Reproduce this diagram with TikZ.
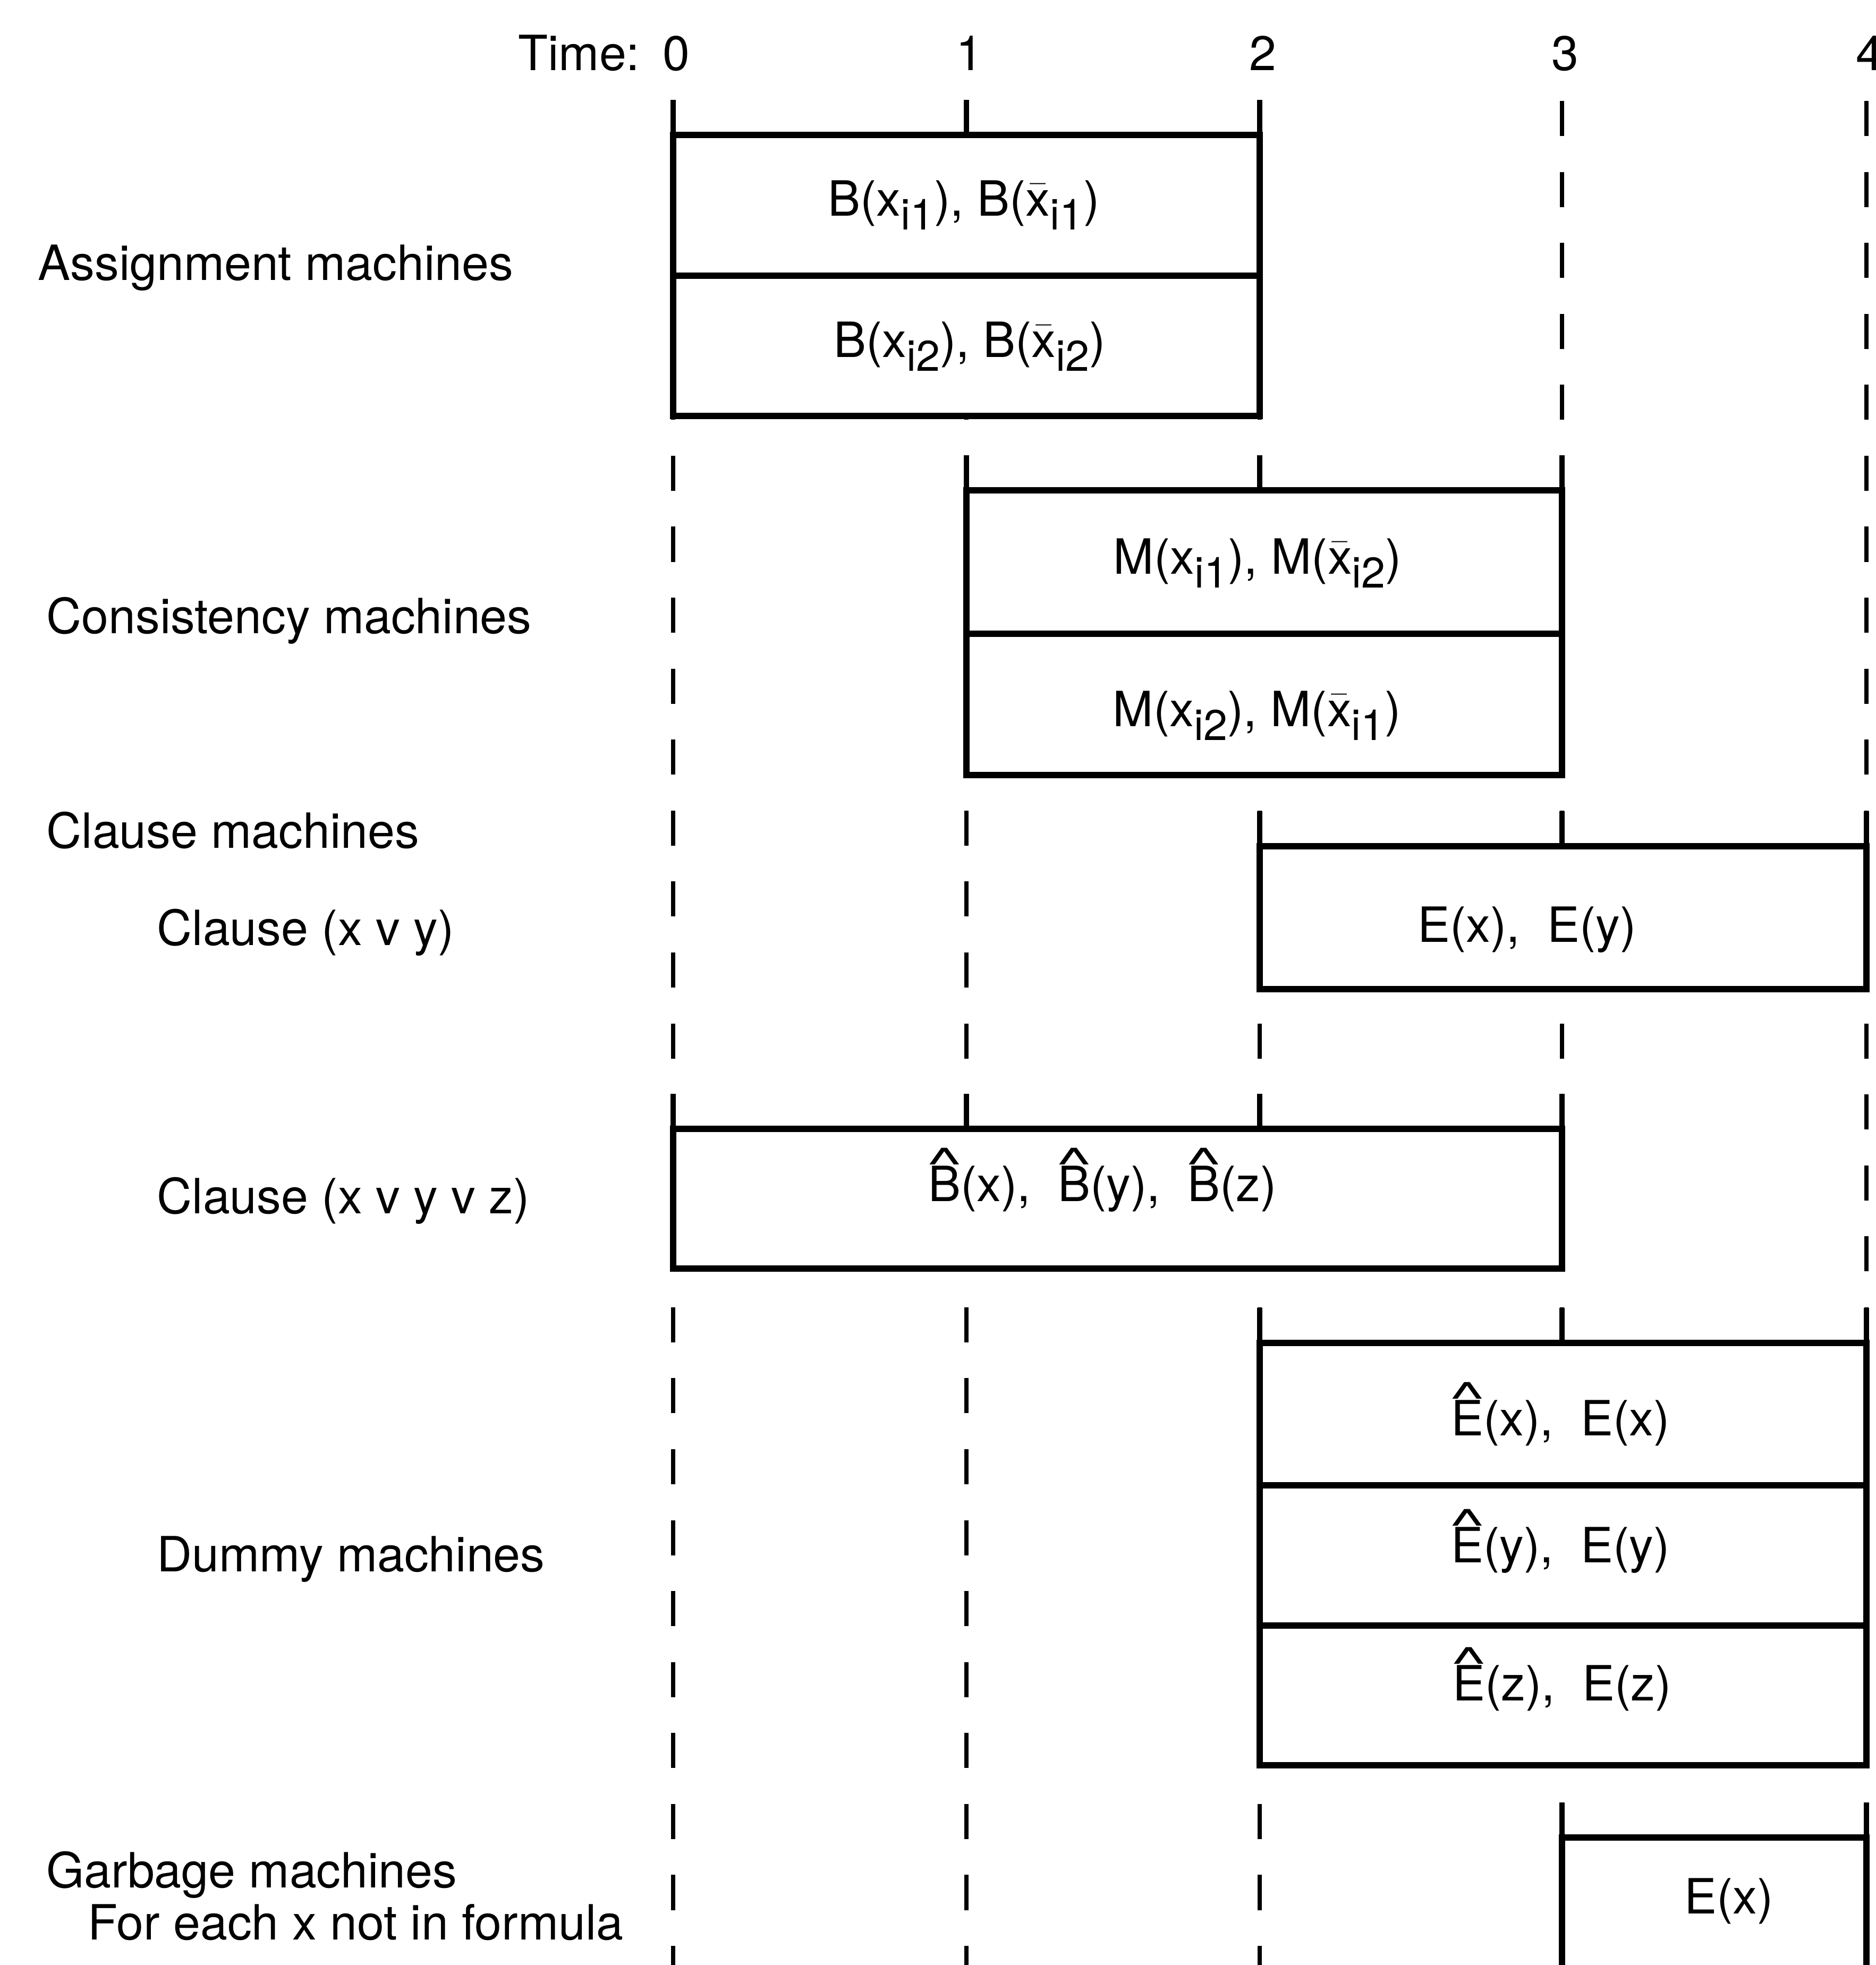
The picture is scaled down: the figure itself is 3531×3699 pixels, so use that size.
\documentclass[tikz,border=0pt]{standalone}
\usepackage{fontspec}
\setmainfont{TeX Gyre Heros}
\usetikzlibrary{positioning}

% lowered index, barred x, hatted letter
\newsavebox{\hatbox}
\newcommand{\ix}[1]{\raisebox{-7.5pt}{\fontsize{23}{23}\selectfont #1}}
\newcommand{\xbar}{\ensuremath{\bar{\mbox{x}}}}
\newcommand{\hatl}[1]{\sbox\hatbox{#1}%
  \makebox[0pt][l]{\makebox[\wd\hatbox]{\raisebox{0.45em}{\scalebox{1.6}[0.9]{\textasciicircum}}}}\usebox\hatbox}

\begin{document}
\begin{tikzpicture}[x=0.01cm, y=-0.01cm,
  every node/.style={font=\fontsize{26}{31}\selectfont, inner sep=0pt},
  lbl/.style={anchor=base west},
  txt/.style={anchor=base},
  timeline/.style={line width=2.4pt, dash pattern=on 0.66cm off 0.675cm},
  machine/.style={draw, line width=3.2pt, fill=white},
  tick/.style={line width=2.6pt}]
 \useasboundingbox (0,0) rectangle (3531,3699);

 % time grid
 \foreach \t/\x in {0/1267,1/1819,2/2371,3/2940,4/3513}
  {
   \coordinate (t\t) at (\x,0);
   \draw[timeline] (t\t |- 0,190) -- (t\t |- 0,3699);
   \node[txt] (time\t) at (\x+6,132) {\t};
  }
 \node[anchor=base east] (time) at (1205,132) {Time:};

 % assignment machines
 \draw[machine] (t0 |- 0,254) rectangle (t2 |- 0,783);
 \draw[machine] (t0 |- 0,519) -- (t2 |- 0,519);
 \foreach \t in {0,1,2} \draw[tick] (t\t |- 0,254) -- ++(0,-66);
 \node[txt] (assign1) at (1814,406) {B(x\ix{i1}), B(\xbar\ix{i1})};
 \node[txt] (assign2) at (1825,672) {B(x\ix{i2}), B(\xbar\ix{i2})};

 % consistency machines
 \draw[machine] (t1 |- 0,923) rectangle (t3 |- 0,1459);
 \draw[machine] (t1 |- 0,1193) -- (t3 |- 0,1193);
 \foreach \t in {1,2,3} \draw[tick] (t\t |- 0,923) -- ++(0,-66);
 \node[txt] (cons1) at (2367,1080) {M(x\ix{i1}), M(\xbar\ix{i2})};
 \node[txt] (cons2) at (2366,1367) {M(x\ix{i2}), M(\xbar\ix{i1})};

 % clause machines
 \draw[machine] (t2 |- 0,1593) rectangle (t4 |- 0,1862);
 \foreach \t in {2,3,4} \draw[tick] (t\t |- 0,1593) -- ++(0,-66);
 \node[txt] (clause1) at (2874,1773) {E(x),\ \ E(y)};
 \draw[machine] (t0 |- 0,2125) rectangle (t3 |- 0,2388);
 \foreach \t in {0,...,3} \draw[tick] (t\t |- 0,2125) -- ++(0,-66);
 \node[txt] (clause2) at (2075,2261) {\hatl{B}(x),\ \ \hatl{B}(y),\ \ \hatl{B}(z)};

 % dummy machines
 \draw[machine] (t2 |- 0,2528) rectangle (t4 |- 0,3323);
 \draw[machine] (t2 |- 0,2796) -- (t4 |- 0,2796);
 \draw[machine] (t2 |- 0,3060) -- (t4 |- 0,3060);
 \foreach \t in {2,3,4} \draw[tick] (t\t |- 0,2528) -- ++(0,-66);
 \node[txt] (dummy1) at (2937,2702) {\hatl{E}(x),\ \ E(x)};
 \node[txt] (dummy2) at (2937,2941) {\hatl{E}(y),\ \ E(y)};
 \node[txt] (dummy3) at (2940,3201) {\hatl{E}(z),\ \ E(z)};

 % garbage machines
 \draw[machine] (t3 |- 0,3459) rectangle (t4 |- 0,3760);
 \foreach \t in {3,4} \draw[tick] (t\t |- 0,3459) -- ++(0,-66);
 \node[txt] (garbage) at (3254,3602) {E(x)};

 % row labels
 \node[lbl] (lassign) at (71,527) {Assignment machines};
 \node[lbl] (lcons) at (87,1192) {Consistency machines};
 \node[lbl] (lclause) at (87,1596) {Clause machines};
 \node[lbl] (lclause1) at (295,1779) {Clause (x v y)};
 \node[lbl] (lclause2) at (295,2284) {Clause (x v y v z)};
 \node[lbl] (ldummy) at (295,2958) {Dummy machines};
 \node[lbl] (lgarbage) at (87,3553) {Garbage machines};
 \node[lbl] (lformula) at (165,3651) {For each x not in formula};
\end{tikzpicture}
\end{document}
